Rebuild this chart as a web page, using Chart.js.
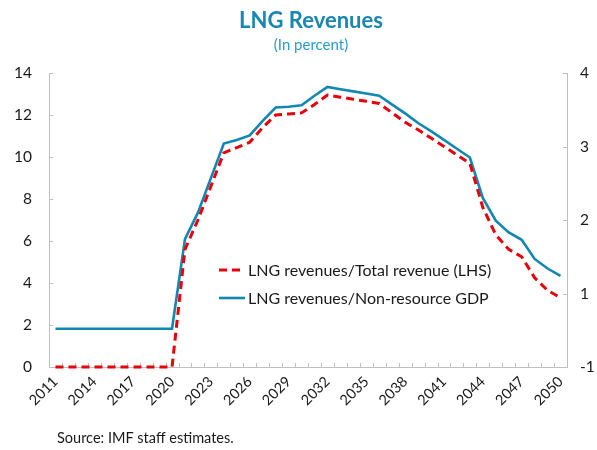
<!DOCTYPE html>
<html>
<head>
<meta charset="utf-8">
<script src="https://cdn.jsdelivr.net/npm/chart.js@4"></script>
<style>
  body { margin: 0; background: #fff; }
  #wrap { position: relative; width: 597px; height: 450px; }
</style>
</head>
<body>
<div id="wrap"><canvas id="lngChart" width="597" height="450"></canvas></div>
<script>
// chart data
const years = ['2011','2012','2013','2014','2015','2016','2017','2018','2019','2020',
  '2021','2022','2023','2024','2025','2026','2027','2028','2029','2030',
  '2031','2032','2033','2034','2035','2036','2037','2038','2039','2040',
  '2041','2042','2043','2044','2045','2046','2047','2048','2049','2050'];

// LNG revenues / total revenue, left axis
const totalRevenueShare = [0,0,0,0,0,0,0,0,0,0,
  5.6,7.0,8.6,10.2,10.45,10.7,11.4,12.0,12.05,12.1,
  12.5,12.95,12.85,12.75,12.65,12.55,12.1,11.65,11.3,10.9,
  10.5,10.1,9.7,7.6,6.3,5.6,5.25,4.25,3.65,3.3];

// LNG revenues / non-resource GDP, right axis
const nonResourceGdpShare = [0.52,0.52,0.52,0.52,0.52,0.52,0.52,0.52,0.52,0.52,
  1.74,2.10,2.57,3.04,3.09,3.15,3.35,3.53,3.54,3.56,
  3.69,3.81,3.78,3.75,3.72,3.69,3.57,3.45,3.32,3.21,
  3.09,2.97,2.85,2.30,1.99,1.83,1.73,1.47,1.34,1.24];

const rightTickLabels = { 0: '-1', 1: '1', 2: '2', 3: '3', 4: '4' };

const FONT = 'Lato, "Open Sans", sans-serif';
const AXIS_GREY = '#bfbfbf';
const RED = '#e8000b';
const TEAL = '#1287b1';

// title, legend, source and inward tick marks
const extrasPlugin = {
    id: 'extras',
    beforeDatasetsDraw(chart) {
        const ctx = chart.ctx;
        const area = chart.chartArea;
        const x = chart.scales.x;
        const yL = chart.scales.y;
        const yR = chart.scales.y1;
        ctx.save();
        ctx.strokeStyle = AXIS_GREY;
        ctx.lineWidth = 1;
        ctx.beginPath();
        for (let i = 0; i <= years.length; i++) {
            const px = Math.round(x.getPixelForValue(i - 0.5)) + 0.5;
            ctx.moveTo(px, area.bottom);
            ctx.lineTo(px, area.bottom - 4);
        }
        yL.ticks.forEach(t => {
            const py = Math.round(yL.getPixelForValue(t.value)) + 0.5;
            ctx.moveTo(area.left, py);
            ctx.lineTo(area.left + 4, py);
        });
        yR.ticks.forEach(t => {
            const py = Math.round(yR.getPixelForValue(t.value)) + 0.5;
            ctx.moveTo(area.right, py);
            ctx.lineTo(area.right - 4, py);
        });
        ctx.stroke();
        ctx.restore();
    },
    afterDraw(chart) {
        const ctx = chart.ctx;
        const area = chart.chartArea;
        const cx = (area.left + area.right) / 2 + 3;
        ctx.save();
        ctx.textAlign = 'center';
        ctx.textBaseline = 'middle';
        ctx.fillStyle = '#1a86b3';
        ctx.font = 'bold 22px ' + FONT;
        ctx.fillText('LNG Revenues', cx, 21);
        ctx.fillStyle = '#2a9ccb';
        ctx.font = '15px ' + FONT;
        ctx.fillText('(In percent)', cx, 45);

        // legend
        ctx.textAlign = 'left';
        ctx.font = '16px ' + FONT;
        ctx.fillStyle = '#1a1a1a';
        const lx = 219, rows = [270, 298];
        chart.data.datasets.forEach((ds, i) => {
            const y = rows[i];
            ctx.beginPath();
            ctx.strokeStyle = ds.borderColor;
            ctx.lineWidth = ds.borderWidth;
            ctx.setLineDash(ds.borderDash || []);
            ctx.moveTo(lx, y);
            ctx.lineTo(lx + 26, y);
            ctx.stroke();
            ctx.setLineDash([]);
            ctx.fillText(ds.label, lx + 29, y + 1);
        });

        ctx.font = '14.5px ' + FONT;
        ctx.fillStyle = '#1a1a1a';
        ctx.fillText('Source: IMF staff estimates.', 57, 438);
        ctx.restore();
    }
};

document.addEventListener('DOMContentLoaded', function() {
    const ctx = document.getElementById('lngChart').getContext('2d');
    window.lngChart = new Chart(ctx, {
        type: 'line',
        data: {
            labels: years,
            datasets: [{
                label: 'LNG revenues/Total revenue (LHS)',
                data: totalRevenueShare,
                yAxisID: 'y',
                borderColor: RED,
                borderWidth: 3,
                borderDash: [8, 5],
                pointRadius: 0,
                tension: 0,
                clip: false
            }, {
                label: 'LNG revenues/Non-resource GDP',
                data: nonResourceGdpShare,
                yAxisID: 'y1',
                borderColor: TEAL,
                borderWidth: 2.6,
                pointRadius: 0,
                tension: 0,
                clip: false
            }]
        },
        options: {
            responsive: false,
            animation: false,
            layout: { padding: { top: 73, left: 0, right: 0, bottom: 0 } },
            plugins: {
                legend: { display: false },
                title: { display: false },
                tooltip: { enabled: false }
            },
            scales: {
                x: {
                    offset: true,
                    grid: { display: false, drawTicks: false },
                    border: { display: true, color: AXIS_GREY },
                    afterFit: s => { s.height = 83; },
                    ticks: {
                        autoSkip: false,
                        minRotation: 45,
                        maxRotation: 45,
                        padding: 6,
                        color: '#1a1a1a',
                        font: { family: FONT, size: 14.5 },
                        callback: (v, i) => (i % 3 === 0 ? years[i] : '')
                    }
                },
                y: {
                    position: 'left',
                    min: 0,
                    max: 14,
                    grid: { display: false, drawTicks: false },
                    border: { display: true, color: AXIS_GREY },
                    afterFit: s => { s.width = 49; },
                    ticks: {
                        stepSize: 2,
                        padding: 17,
                        color: '#1a1a1a',
                        font: { family: FONT, size: 15.5 }
                    }
                },
                y1: {
                    position: 'right',
                    min: 0,
                    max: 4,
                    grid: { display: false, drawTicks: false },
                    border: { display: true, color: AXIS_GREY },
                    afterFit: s => { s.width = 30; },
                    ticks: {
                        stepSize: 1,
                        padding: 13,
                        color: '#1a1a1a',
                        font: { family: FONT, size: 15.5 },
                        callback: v => rightTickLabels[v]
                    }
                }
            }
        },
        plugins: [extrasPlugin]
    });
});
</script>
</body>
</html>
